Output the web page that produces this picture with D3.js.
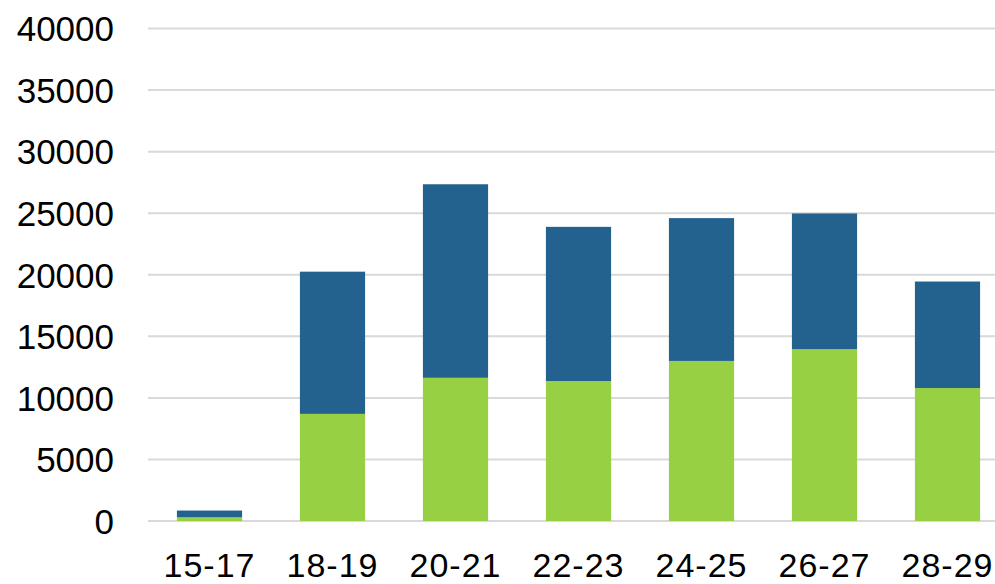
<!DOCTYPE html>
<html>
<head>
<meta charset="utf-8">
<script src="https://cdn.jsdelivr.net/npm/d3@7"></script>
<style>
  body { margin: 0; background: #fff; }
  text { font-family: "Liberation Sans", Arial, sans-serif; fill: #000; }
</style>
</head>
<body>
<div id="chart"></div>
<script>
// age groups along the bottom
var categories = ['15-17', '18-19', '20-21', '22-23', '24-25', '26-27', '28-29'];

// lower (green) and upper (blue) parts of each stack
var greenValues = [300, 8700, 11630, 11370, 13000, 13950, 10800];
var blueValues = [550, 11550, 15720, 12520, 11600, 11030, 8650];

var yTicks = [0, 5000, 10000, 15000, 20000, 25000, 30000, 35000, 40000];

var width = 995,
  height = 584;

var x = d3.scaleBand()
  .domain(categories)
  .range([148, 1009])
  .paddingInner(0.47)
  .paddingOuter(0.235);

var y = d3.scaleLinear()
  .domain([0, 40000])
  .range([521, 28.5]);

var svg = d3.select('#chart')
  .append('svg')
  .attr('width', width)
  .attr('height', height);

// gridlines
svg.append('g')
  .selectAll('line')
  .data(yTicks)
  .enter().append('line')
  .attr('x1', 148)
  .attr('x2', width)
  .attr('y1', function(d) { return y(d); })
  .attr('y2', function(d) { return y(d); })
  .attr('stroke', '#d9d9d9')
  .attr('stroke-width', 2);

var stackData = categories.map(function(c, i) {
  return { cat: c, green: greenValues[i], blue: blueValues[i] };
});

var series = d3.stack().keys(['green', 'blue'])(stackData);
var colors = { green: '#97d042', blue: '#23618f' };

svg.append('g')
  .selectAll('g')
  .data(series)
  .enter().append('g')
  .attr('fill', function(s) { return colors[s.key]; })
  .selectAll('rect')
  .data(function(s) { return s; })
  .enter().append('rect')
  .attr('x', function(d) { return x(d.data.cat); })
  .attr('width', x.bandwidth())
  .attr('y', function(d) { return y(d[1]); })
  .attr('height', function(d) { return y(d[0]) - y(d[1]); });

// y axis labels
var yAxis = d3.axisLeft(y)
  .tickValues(yTicks)
  .tickFormat(d3.format('d'))
  .tickSize(0)
  .tickPadding(0);

svg.append('g')
  .attr('transform', 'translate(114,0)')
  .call(yAxis)
  .call(function(g) { g.select('.domain').remove(); })
  .selectAll('text')
  .style('font-size', '35px')
  .attr('dy', '0.35em');

// x axis labels
var xAxis = d3.axisBottom(x).tickSize(0).tickPadding(0);

svg.append('g')
  .attr('transform', 'translate(0,553)')
  .call(xAxis)
  .call(function(g) { g.select('.domain').remove(); })
  .selectAll('text')
  .style('font-size', '34px')
  .style('letter-spacing', '1px')
  .attr('dy', '0.72em');
</script>
</body>
</html>
